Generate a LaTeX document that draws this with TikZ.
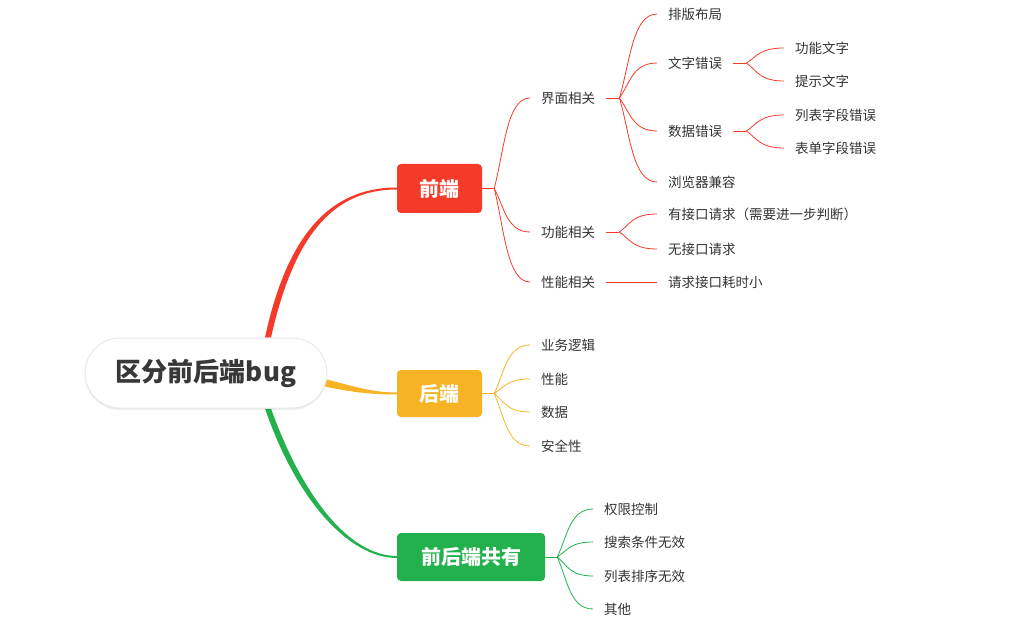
\documentclass[tikz,border=0pt]{standalone}
\usepackage{fontspec}
\setmainfont{Noto Sans CJK SC}
\usetikzlibrary{calc,shadows,backgrounds}
\definecolor{fered}{HTML}{F53A2A}
\definecolor{beorange}{HTML}{F6B324}
\definecolor{bothgreen}{HTML}{22B14C}
\definecolor{txtgray}{HTML}{333333}
\definecolor{roottxt}{HTML}{383838}

\begin{document}
\begin{tikzpicture}[x=1pt,y=-1pt,
  leaf/.style={anchor=west,inner xsep=11pt,inner ysep=1pt,text=txtgray,font=\fontsize{13.5}{16}\selectfont},
  topic/.style={rounded corners=4pt,text=white,inner sep=0pt,font=\fontsize{20}{24}\selectfont\bfseries},
  branch/.style={to path={let \p1=(\tikztostart),\p2=(\tikztotarget) in
    .. controls ({\x1+0.28*(\x2-\x1)},{\y1+0.42*(\y2-\y1)}) and ({\x1+0.35*(\x2-\x1)},\y2) .. (\tikztotarget)}},
  thin/.style={line width=.8pt}]
  \useasboundingbox (0,0) rectangle (1017,631);

  % centre and main topics
  \node[fill=white,draw=black!9,line width=1pt,rounded corners=35pt,minimum width=242pt,minimum height=70pt,
    drop shadow={shadow xshift=0pt,shadow yshift=-2pt,opacity=.07,fill=black}]
    (root) at (206,373) {\fontsize{26}{30}\selectfont\bfseries\color{roottxt}区分前后端bug};
  \node[topic,fill=fered,minimum width=85pt,minimum height=49pt] (fe) at (439.5,188.5) {前端};
  \node[topic,fill=beorange,minimum width=85pt,minimum height=47pt] (be) at (439.5,393.5) {后端};
  \node[topic,fill=bothgreen,minimum width=148pt,minimum height=48pt] (both) at (471,557) {前后端共有};

  \begin{scope}[on background layer]
  \fill[fered] ([xshift=59]root.north) .. controls (287,235) and (330,187.5) .. ([yshift=1]fe.west)
    -- ([yshift=-1]fe.west) .. controls (330,189.5) and (293,240) .. ([xshift=65]root.north) -- cycle;
  \fill[beorange] ([shift={(-3,6)}]root.east) .. controls (350,385) and (370,392.5) .. ([yshift=1]be.west)
    -- ([yshift=-1]be.west) .. controls (370,394.5) and (350,392) .. ([shift={(-5,13)}]root.east) -- cycle;
  \fill[bothgreen] ([xshift=59]root.south) .. controls (297,502) and (350,558) .. ([yshift=-1]both.west)
    -- ([yshift=1]both.west) .. controls (350,556) and (303,498) .. ([xshift=65]root.south) -- cycle;
  \end{scope}

  % front end
  \node[leaf] (ui) at (530,98) {界面相关};
  \node[leaf] (func) at (530,232) {功能相关};
  \node[leaf] (perf) at (530,282) {性能相关};
  \node[leaf] (layout) at (657,14) {排版布局};
  \node[leaf] (typo) at (657,63) {文字错误};
  \node[leaf] (dataerr) at (657,131) {数据错误};
  \node[leaf] (compat) at (657,182) {浏览器兼容};
  \node[leaf] (functxt) at (784,48) {功能文字};
  \node[leaf] (tiptxt) at (784,81) {提示文字};
  \node[leaf] (listfld) at (784,115) {列表字段错误};
  \node[leaf] (formfld) at (784,148) {表单字段错误};
  \node[leaf] (withapi) at (657,214) {有接口请求（需要进一步判断）};
  \node[leaf] (noapi) at (657,249) {无接口请求};
  \node[leaf] (apitime) at (657,282) {请求接口耗时小};

  \begin{scope}[fered,thin]
  \draw (fe.east) -- ++(12,0) coordinate (jfe);
  \draw (jfe) to[branch] (ui.west);
  \draw (jfe) to[branch] (func.west);
  \draw (jfe) to[branch] (perf.west);
  \draw (ui.east) -- ++(13,0) coordinate (jui);
  \draw (jui) to[branch] (layout.west);
  \draw (jui) to[branch] (typo.west);
  \draw (jui) to[branch] (dataerr.west);
  \draw (jui) to[branch] (compat.west);
  \draw (typo.east) -- ++(13,0) coordinate (jtypo);
  \draw (jtypo) to[branch] (functxt.west);
  \draw (jtypo) to[branch] (tiptxt.west);
  \draw (dataerr.east) -- ++(13,0) coordinate (jdata);
  \draw (jdata) to[branch] (listfld.west);
  \draw (jdata) to[branch] (formfld.west);
  \draw (func.east) -- ++(13,0) coordinate (jfunc);
  \draw (jfunc) to[branch] (withapi.west);
  \draw (jfunc) to[branch] (noapi.west);
  \draw (perf.east) -- (apitime.west);
  \end{scope}

  % back end
  \node[leaf] (logic) at (530,345) {业务逻辑};
  \node[leaf] (beperf) at (530,379) {性能};
  \node[leaf] (bedata) at (530,412) {数据};
  \node[leaf] (secure) at (530,446) {安全性};
  \begin{scope}[beorange,thin]
  \draw (be.east) -- ++(12,0) coordinate (jbe);
  \draw (jbe) to[branch] (logic.west);
  \draw (jbe) to[branch] (beperf.west);
  \draw (jbe) to[branch] (bedata.west);
  \draw (jbe) to[branch] (secure.west);
  \end{scope}

  % shared
  \node[leaf] (perm) at (593,509) {权限控制};
  \node[leaf] (search) at (593,542) {搜索条件无效};
  \node[leaf] (sort) at (593,576) {列表排序无效};
  \node[leaf] (other) at (593,609) {其他};
  \begin{scope}[bothgreen,thin]
  \draw (both.east) -- ++(12,0) coordinate (jboth);
  \draw (jboth) to[branch] (perm.west);
  \draw (jboth) to[branch] (search.west);
  \draw (jboth) to[branch] (sort.west);
  \draw (jboth) to[branch] (other.west);
  \end{scope}
\end{tikzpicture}
\end{document}
